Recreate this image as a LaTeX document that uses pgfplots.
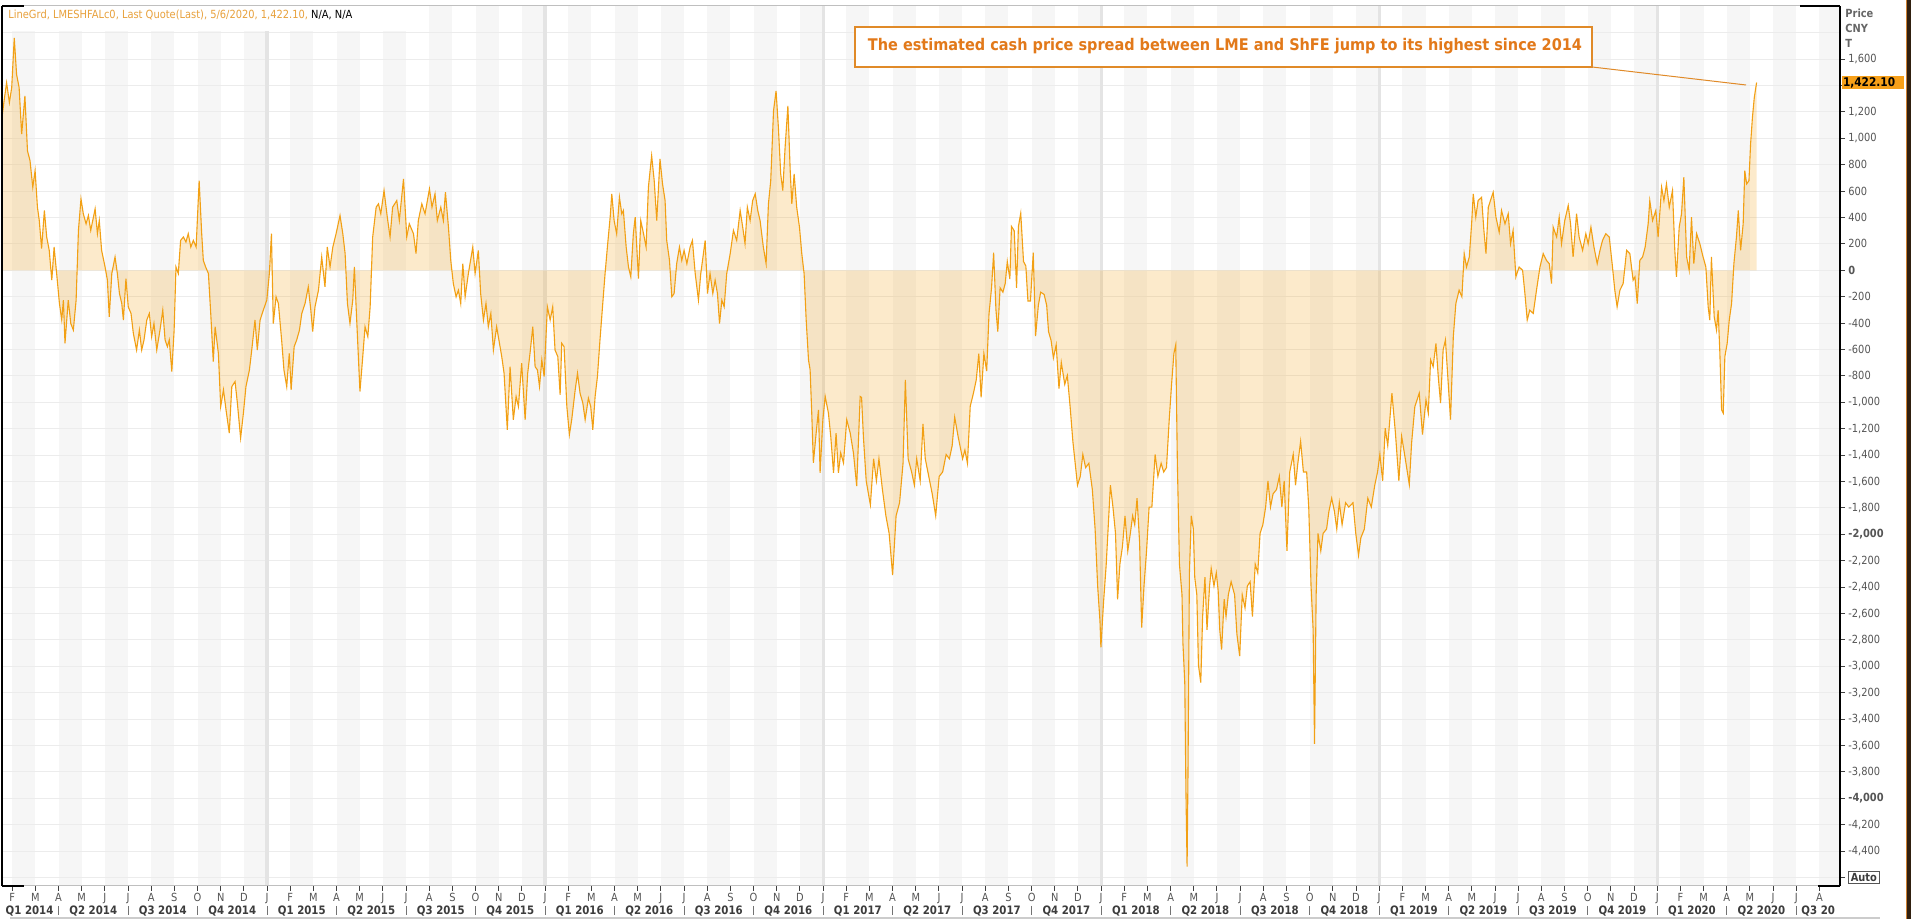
\documentclass[border=0pt]{standalone}
\usepackage{fontspec}
\setmainfont{DejaVu Sans}
\newfontfamily\tah[FakeStretch=0.88]{DejaVu Sans}
\usepackage{pgfplots}
\usepackage{pgfplotstable}
\pgfplotsset{compat=1.18}
\definecolor{lineor}{RGB}{242,160,20}
\definecolor{stripe}{RGB}{246,246,246}
\definecolor{gridc}{RGB}{236,236,236}
\definecolor{yearc}{RGB}{228,228,228}
\definecolor{anntext}{RGB}{226,121,26}
\definecolor{annbox}{RGB}{224,138,40}
\definecolor{legor}{RGB}{232,161,60}
\definecolor{labgray}{RGB}{85,85,85}
\definecolor{qgray}{RGB}{60,60,60}
\definecolor{valbox}{RGB}{247,160,25}

\pgfplotstableread{
m v
0.56 1157
0.65 1283
0.76 1421
0.88 1270
0.98 1384
1.09 1761
1.19 1484
1.30 1384
1.41 1031
1.55 1321
1.66 906
1.77 830
1.89 629
1.99 755
2.09 478
2.17 377
2.27 164
2.39 453
2.49 252
2.60 151
2.71 -75
2.81 176
2.92 -25
3.04 -252
3.14 -377
3.21 -226
3.28 -553
3.42 -226
3.53 -403
3.64 -453
3.76 -226
3.86 302
3.97 541
4.07 428
4.19 352
4.29 415
4.39 302
4.58 465
4.68 277
4.76 377
4.86 151
5.01 25
5.11 -75
5.19 -352
5.30 -25
5.44 101
5.54 -25
5.63 -176
5.73 -252
5.80 -377
5.91 -63
6.01 -277
6.13 -327
6.23 -478
6.37 -604
6.49 -453
6.59 -604
6.69 -528
6.81 -377
6.92 -327
7.02 -503
7.12 -403
7.24 -604
7.38 -453
7.50 -302
7.60 -528
7.70 -579
7.78 -528
7.89 -767
7.99 -453
8.07 25
8.17 -25
8.27 226
8.39 252
8.50 214
8.60 277
8.71 176
8.82 226
8.94 176
9.07 679
9.18 277
9.25 75
9.35 25
9.47 -25
9.57 -327
9.68 -692
9.76 -428
9.90 -629
10.00 -1032
10.12 -906
10.23 -1057
10.37 -1233
10.48 -881
10.62 -843
10.72 -1006
10.86 -1271
10.98 -1082
11.09 -881
11.24 -755
11.34 -604
11.48 -377
11.58 -604
11.70 -377
11.84 -302
11.99 -226
12.10 -25
12.19 277
12.27 -403
12.39 -201
12.49 -252
12.63 -528
12.73 -755
12.85 -881
12.96 -629
13.04 -906
13.17 -579
13.28 -528
13.40 -453
13.50 -327
13.64 -252
13.78 -126
13.89 -302
13.97 -465
14.07 -277
14.22 -151
14.36 101
14.50 -126
14.60 176
14.72 25
14.84 176
14.98 277
15.15 415
15.27 277
15.37 126
15.47 -252
15.58 -403
15.70 -226
15.77 25
15.87 -377
16.01 -918
16.12 -679
16.23 -428
16.35 -503
16.45 -277
16.56 252
16.71 478
16.81 503
16.91 428
17.05 604
17.19 403
17.31 252
17.42 478
17.60 528
17.71 377
17.89 692
18.03 252
18.14 352
18.32 277
18.43 126
18.53 377
18.68 503
18.82 428
19.01 616
19.12 478
19.25 579
19.35 377
19.50 478
19.61 377
19.70 591
19.83 327
19.93 75
20.04 -101
20.16 -201
20.26 -151
20.36 -252
20.45 50
20.55 -201
20.69 -25
20.88 176
20.98 -25
21.12 151
21.22 -176
21.34 -377
21.45 -252
21.55 -428
21.66 -327
21.77 -604
21.91 -428
22.13 -654
22.23 -780
22.37 -1208
22.49 -730
22.63 -1132
22.75 -956
22.85 -1032
22.99 -704
23.14 -1132
23.25 -780
23.35 -629
23.47 -428
23.57 -730
23.67 -755
23.76 -881
23.86 -679
23.96 -805
24.10 -277
24.22 -377
24.33 -277
24.43 -604
24.55 -654
24.65 -943
24.72 -553
24.82 -579
24.94 -1032
25.05 -1245
25.15 -1132
25.30 -906
25.40 -780
25.51 -931
25.63 -1006
25.73 -1132
25.87 -969
25.97 -1032
26.06 -1208
26.16 -956
26.26 -805
26.37 -528
26.49 -252
26.59 -25
26.69 176
26.81 403
26.88 579
26.98 377
27.09 277
27.21 553
27.31 428
27.38 453
27.50 176
27.60 25
27.70 -50
27.81 277
27.89 403
28.03 -63
28.13 377
28.25 277
28.36 176
28.46 629
28.60 868
28.71 679
28.82 377
28.96 843
29.07 654
29.18 528
29.25 226
29.37 75
29.47 -201
29.57 -176
29.68 50
29.80 176
29.90 75
30.00 151
30.12 50
30.26 176
30.36 226
30.48 -25
30.62 -226
30.72 -25
30.91 226
31.01 -176
31.12 -25
31.24 -176
31.34 -75
31.44 -176
31.53 -403
31.63 -226
31.73 -277
31.84 -25
31.99 126
32.13 302
32.27 226
32.42 453
32.53 327
32.63 201
32.73 478
32.85 377
32.96 528
33.07 579
33.18 453
33.28 377
33.42 176
33.54 50
33.64 503
33.74 679
33.86 1208
33.97 1359
34.07 1082
34.17 730
34.26 604
34.36 931
34.48 1245
34.58 755
34.65 503
34.75 730
34.86 478
34.98 327
35.08 126
35.18 -25
35.27 -377
35.37 -679
35.44 -755
35.51 -1082
35.58 -1459
35.70 -1233
35.80 -1057
35.87 -1535
35.99 -1132
36.09 -956
36.23 -1082
36.33 -1258
36.45 -1535
36.56 -1233
36.66 -1535
36.76 -1384
36.88 -1459
37.02 -1132
37.17 -1233
37.31 -1384
37.45 -1635
37.60 -956
37.66 -963
37.74 -1262
37.86 -1595
38.04 -1777
38.18 -1428
38.30 -1595
38.41 -1428
38.56 -1661
38.71 -1860
38.85 -1993
39.00 -2309
39.15 -1860
39.30 -1761
39.45 -1462
39.55 -830
39.67 -1428
39.82 -1528
39.94 -1628
40.04 -1428
40.19 -1595
40.31 -1163
40.41 -1428
40.56 -1561
40.71 -1694
40.86 -1860
41.01 -1561
41.16 -1528
41.31 -1395
41.45 -1428
41.57 -1329
41.68 -1113
41.83 -1262
42.02 -1428
42.12 -1362
42.23 -1462
42.35 -1030
42.49 -930
42.61 -830
42.72 -631
42.82 -963
42.94 -631
43.06 -764
43.16 -332
43.27 -133
43.36 133
43.46 -299
43.54 -465
43.64 -133
43.76 -166
43.86 -100
43.95 66
44.06 -66
44.13 332
44.25 299
44.35 -133
44.43 332
44.53 432
44.65 66
44.75 33
44.84 -233
44.95 -233
45.07 133
45.17 -498
45.29 -266
45.39 -166
45.54 -183
45.65 -266
45.73 -465
45.84 -532
45.94 -664
46.06 -565
46.18 -897
46.28 -698
46.43 -864
46.54 -797
46.66 -1030
46.78 -1296
46.88 -1462
46.98 -1628
47.10 -1561
47.21 -1395
47.33 -1495
47.47 -1462
47.62 -1661
47.74 -1960
47.85 -2392
47.95 -2658
47.99 -2857
48.10 -2525
48.22 -2226
48.40 -1628
48.51 -1794
48.62 -1993
48.71 -2492
48.81 -2226
48.92 -2093
49.03 -1860
49.15 -2126
49.26 -1993
49.36 -1860
49.45 -1927
49.55 -1727
49.66 -2060
49.75 -2707
49.85 -2392
49.96 -2126
50.07 -1794
50.19 -1794
50.33 -1395
50.45 -1561
50.59 -1462
50.70 -1528
50.82 -1495
50.94 -1129
51.04 -864
51.14 -631
51.22 -565
51.29 -1462
51.38 -2226
51.49 -2458
51.53 -2824
51.61 -3123
51.66 -3953
51.71 -4518
51.75 -3787
51.81 -2292
51.89 -1860
51.98 -1960
52.04 -2325
52.13 -2458
52.20 -2990
52.30 -3123
52.38 -2624
52.48 -2325
52.57 -2724
52.68 -2392
52.75 -2259
52.87 -2392
52.97 -2292
53.05 -2425
53.12 -2724
53.20 -2874
53.31 -2492
53.39 -2624
53.49 -2458
53.61 -2359
53.76 -2458
53.86 -2757
53.98 -2923
54.09 -2458
54.21 -2558
54.31 -2392
54.43 -2359
54.53 -2624
54.65 -2226
54.76 -2292
54.86 -1993
54.98 -1927
55.10 -1794
55.20 -1595
55.31 -1794
55.42 -1694
55.57 -1661
55.69 -1561
55.80 -1794
55.90 -1595
56.02 -2126
56.14 -1528
56.29 -1395
56.39 -1628
56.49 -1462
56.61 -1296
56.73 -1528
56.87 -1528
56.96 -1794
57.06 -2392
57.15 -2724
57.21 -3588
57.28 -2458
57.36 -1993
57.48 -2126
57.58 -1993
57.73 -1960
57.83 -1827
57.95 -1727
58.07 -1827
58.17 -1960
58.28 -1761
58.40 -1927
58.55 -1761
58.69 -1794
58.87 -1761
58.99 -1993
59.11 -2159
59.21 -2026
59.36 -1960
59.51 -1727
59.66 -1794
59.81 -1628
59.93 -1528
60.03 -1395
60.15 -1595
60.26 -1196
60.37 -1329
60.55 -930
60.70 -1229
60.85 -1595
60.97 -1258
61.11 -1409
61.30 -1623
61.40 -1308
61.54 -1032
61.73 -931
61.87 -1245
62.02 -981
62.12 -1082
62.22 -679
62.33 -730
62.45 -554
62.55 -805
62.65 -1006
62.76 -604
62.86 -528
62.98 -855
63.08 -1132
63.20 -503
63.31 -252
63.45 -151
63.57 -201
63.67 126
63.77 25
63.89 101
63.99 352
64.06 579
64.17 403
64.27 528
64.42 553
64.52 302
64.61 126
64.71 478
64.85 553
64.92 591
65.04 403
65.18 289
65.28 453
65.43 352
65.57 428
65.67 201
65.78 302
65.90 -50
66.04 25
66.19 0
66.29 -176
66.39 -377
66.50 -302
66.65 -327
66.79 -151
66.94 25
67.08 126
67.22 75
67.34 50
67.44 -101
67.51 327
67.66 252
67.77 403
67.87 201
68.01 377
68.16 491
68.26 352
68.37 101
68.52 428
68.63 252
68.78 151
68.92 277
69.02 201
69.14 327
69.27 176
69.41 50
69.53 151
69.64 226
69.78 277
69.93 252
70.07 25
70.17 -151
70.27 -277
70.39 -151
70.53 -101
70.68 151
70.82 126
70.96 -75
71.04 -50
71.14 -252
71.25 75
71.37 101
71.48 176
71.61 352
71.68 528
71.80 377
71.94 453
72.04 252
72.19 629
72.29 528
72.40 654
72.52 478
72.66 604
72.76 151
72.83 -50
72.95 327
73.05 428
73.15 705
73.27 101
73.38 0
73.48 403
73.58 50
73.70 277
73.84 201
73.98 101
74.10 25
74.20 -277
74.27 -377
74.34 101
74.46 -352
74.56 -453
74.63 -302
74.70 -604
74.78 -1057
74.85 -1082
74.92 -654
75.02 -554
75.11 -377
75.21 -252
75.31 50
75.42 252
75.50 453
75.60 151
75.71 352
75.78 755
75.86 654
75.96 679
76.03 956
76.11 1157
76.19 1308
76.29 1422.1
}\spread

\begin{document}
\begin{tikzpicture}
\useasboundingbox (0,0) rectangle (955.5pt,459.5pt);
\fill[white] (0,0) rectangle (955.5pt,459.5pt);
\begin{axis}[
  at={(1pt,16.5pt)}, anchor=south west,
  scale only axis, width=919pt, height=440pt,
  xmin=0.561, xmax=79.89, ymin=-4664, ymax=2002,
  axis line style={draw=none},
  clip mode=individual,
  xtick pos=left, ytick pos=right, yticklabel pos=right,
  tick align=outside,
  major tick length=2.5pt,
  tick style={black!75, line width=0.5pt},
  xtick={1,2,...,79},
  xticklabels={F,M,A,M,J,J,A,S,O,N,D,
    J,F,M,A,M,J,J,A,S,O,N,D,
    J,F,M,A,M,J,J,A,S,O,N,D,
    J,F,M,A,M,J,J,A,S,O,N,D,
    J,F,M,A,M,J,J,A,S,O,N,D,
    J,F,M,A,M,J,J,A,S,O,N,D,
    J,F,M,A,M,J,J,A},
  xticklabel style={font=\tah\fontsize{5.6}{6}\selectfont, text=labgray, inner sep=0pt, yshift=-1pt},
  ytick={-4600,-4400,...,1600},
  yticklabels={{\fboxsep=0.8pt\fboxrule=0.4pt\fbox{\textcolor{qgray}{\bfseries Auto}}},
    {-4,400},{-4,200},{\bfseries -4,000},{-3,800},{-3,600},{-3,400},{-3,200},{-3,000},
    {-2,800},{-2,600},{-2,400},{-2,200},{\bfseries -2,000},{-1,800},{-1,600},{-1,400},
    {-1,200},{-1,000},{-800},{-600},{-400},{-200},{\bfseries 0},{200},{400},{600},{800},
    {1,000},{1,200},{},{1,600}},
  yticklabel style={font=\tah\fontsize{5.6}{6}\selectfont, text=labgray, inner sep=0pt, xshift=1.5pt},
  extra x ticks={1.75,4.5,7.5,10.5,13.5,16.5,19.5,22.5,25.5,28.5,31.5,34.5,37.5,40.5,43.5,46.5,49.5,52.5,55.5,58.5,61.5,64.5,67.5,70.5,73.5,76.5,78.95},
  extra x tick labels={Q1 2014,Q2 2014,Q3 2014,Q4 2014,Q1 2015,Q2 2015,Q3 2015,Q4 2015,Q1 2016,Q2 2016,Q3 2016,Q4 2016,Q1 2017,Q2 2017,Q3 2017,Q4 2017,Q1 2018,Q2 2018,Q3 2018,Q4 2018,Q1 2019,Q2 2019,Q3 2019,Q4 2019,Q1 2020,Q2 2020,Q3 20},
  extra x tick style={major tick length=0pt, tick style={draw=none},
    xticklabel style={font=\tah\bfseries\fontsize{5.8}{6}\selectfont, text=qgray, yshift=-8.9pt}},
]
% month stripes
\pgfplotsinvokeforeach{1,3,...,77}{
  \fill[stripe] (axis cs:#1,-4664) rectangle (axis cs:#1+1,2002);
}
\fill[stripe] (axis cs:79,-4664) rectangle (axis cs:79.89,2002);
% horizontal grid
\pgfplotsinvokeforeach{-4600,-4400,...,1800}{
  \draw[gridc, line width=0.5pt] (axis cs:0.561,#1) -- (axis cs:79.89,#1);
}
% year lines
\pgfplotsinvokeforeach{12,24,...,72}{
  \draw[yearc, line width=1.6pt] (axis cs:#1,-4664) -- (axis cs:#1,2002);
}
% legend background
\fill[white] (axis cs:0.561,1812) rectangle (axis cs:18.6,2002);
% quarter separators
\pgfplotsinvokeforeach{3,6,...,78}{
  \draw[black!55, line width=0.5pt] ([yshift=-10pt]axis cs:#1,-4664) -- ([yshift=-14.5pt]axis cs:#1,-4664);
}
% filled area to zero
\addplot[draw=none, fill=lineor, fill opacity=0.22] table[x=m,y=v]{\spread}
  -- (axis cs:76.29,0) -- (axis cs:0.56,0) -- cycle;
% line
\addplot[draw=lineor, line width=0.55pt, mark=none] table[x=m,y=v]{\spread};
\end{axis}
% frame
\draw[black!25, line width=0.5pt] (1pt,456.5pt) -- (920pt,456.5pt);
\draw[black!25, line width=0.5pt] (1pt,16.5pt) -- (920pt,16.5pt);
\draw[black, line width=0.6pt] (1pt,16.5pt) -- (1pt,456.5pt);
\draw[black, line width=0.6pt] (920pt,16.5pt) -- (920pt,456.5pt);
\draw[black, line width=0.6pt] (1pt,456.5pt) -- (12pt,456.5pt);
\draw[black, line width=0.6pt] (1pt,16.5pt) -- (12pt,16.5pt);
\draw[black, line width=0.6pt] (900pt,456.5pt) -- (920pt,456.5pt);
\draw[black, line width=0.6pt] (909pt,16.5pt) -- (920pt,16.5pt);
% right panel labels
\node[anchor=west, inner sep=0pt, text=black!60, font=\tah\bfseries\fontsize{5.6}{6}\selectfont] at (922.5pt,452.8pt) {Price};
\node[anchor=west, inner sep=0pt, text=black!60, font=\tah\bfseries\fontsize{5.6}{6}\selectfont] at (922.5pt,445.2pt) {CNY};
\node[anchor=west, inner sep=0pt, text=black!60, font=\tah\bfseries\fontsize{5.6}{6}\selectfont] at (922.5pt,437.9pt) {T};
% last value box
\fill[valbox] (921pt,415pt) rectangle (952pt,421.3pt);
\node[anchor=west, inner sep=0pt, text=black, font=\tah\bfseries\fontsize{6}{6}\selectfont] at (921.3pt,418.1pt) {1,422.10};
% right border
\fill[black!75!brown] (953.5pt,0) rectangle (955.5pt,459.5pt);
\draw[brown!80!orange, line width=0.5pt] (953.3pt,0) -- (953.3pt,459.5pt);
% scroll bar
\fill[black!20] (5pt,0) rectangle (940pt,1.2pt);
% legend
\node[anchor=west, inner sep=0pt] at (4pt,452pt) {\resizebox{172pt}{!}{\tah\fontsize{5.5}{6}\selectfont\textcolor{legor}{LineGrd, LMESHFALc0, Last Quote(Last), 5/6/2020, 1,422.10,} N/A, N/A}};
% annotation
\draw[annbox, fill=white, line width=0.6pt] (427.5pt,426pt) rectangle (796pt,446pt);
\node[inner sep=0pt, text=anntext] at (612.5pt,436.5pt) {\resizebox{357pt}{6.1pt}{\bfseries The estimated cash price spread between LME and ShFE jump to its highest since 2014}};
\draw[annbox, line width=0.5pt] (796pt,426pt) -- (873pt,417pt);
\end{tikzpicture}
\end{document}
